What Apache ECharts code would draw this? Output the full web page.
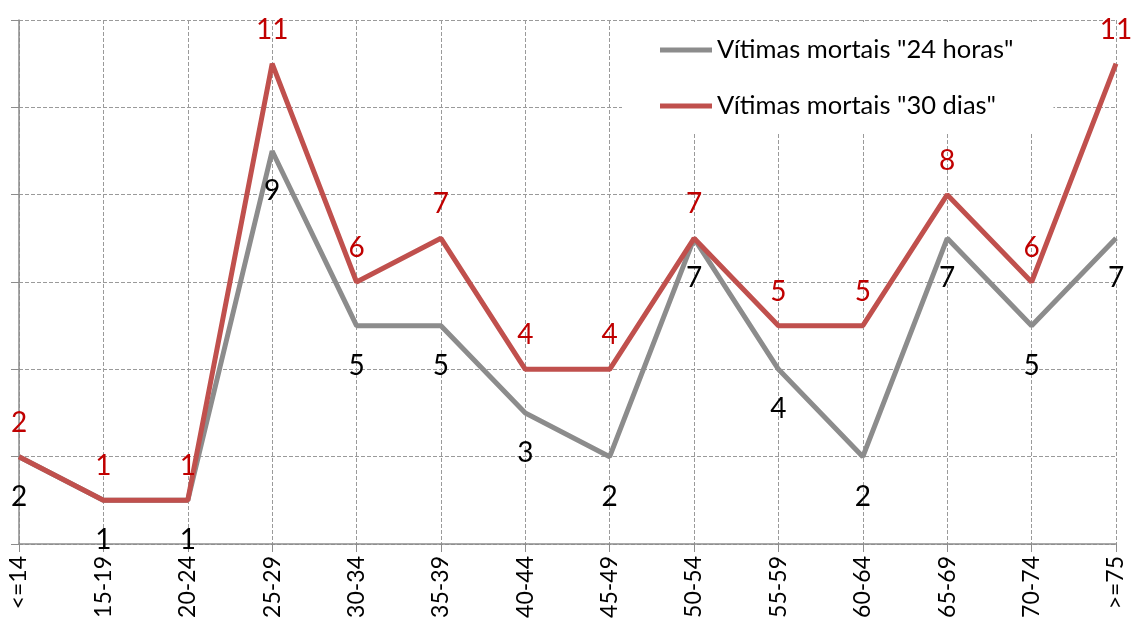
<!DOCTYPE html>
<html>
<head>
<meta charset="utf-8">
<script src="https://cdn.jsdelivr.net/npm/echarts@6/dist/echarts.min.js"></script>
<style>
  html, body { margin: 0; padding: 0; background: #fff; }
  #chart { width: 1137px; height: 622px; }
</style>
</head>
<body>
<div id="chart"></div>
<script>
// faixas etárias
var categories = ['<=14', '15-19', '20-24', '25-29', '30-34', '35-39', '40-44', '45-49', '50-54', '55-59', '60-64', '65-69', '70-74', '>=75'];
var mortos24h = [2, 1, 1, 9, 5, 5, 3, 2, 7, 4, 2, 7, 5, 7];
var mortos30d = [2, 1, 1, 11, 6, 7, 4, 4, 7, 5, 5, 8, 6, 11];
var seriesNames = ['Vítimas mortais "24 horas"', 'Vítimas mortais "30 dias"'];

var font = 'Lato, "Open Sans", sans-serif';
var gridColor = '#8c8c8c';

var chart = echarts.init(document.getElementById('chart'));
chart.setOption({
    animation: false,
    textStyle: { fontFamily: font },
    grid: { left: 19, right: 21, top: 20, bottom: 78, containLabel: false },
    legend: {
        orient: 'vertical',
        left: 622,
        top: 22,
        padding: [15, 40, 15, 38],
        backgroundColor: '#fff',
        itemWidth: 52,
        itemHeight: 5,
        itemGap: 30,
        icon: 'rect',
        textStyle: { fontSize: 25.5, color: '#000', fontFamily: font },
        data: seriesNames
    },
    xAxis: {
        type: 'category',
        boundaryGap: false,
        data: categories,
        axisLine: { lineStyle: { color: gridColor, width: 1.5 } },
        axisTick: { show: true, length: 8, lineStyle: { color: gridColor } },
        axisLabel: { rotate: 90, fontSize: 23, color: '#000', margin: 12, fontFamily: font },
        splitLine: { show: true, lineStyle: { color: '#9a9a9a', type: 'dashed', width: 1 } }
    },
    yAxis: {
        type: 'value',
        min: 0,
        max: 12,
        interval: 2,
        axisLine: { show: true, lineStyle: { color: gridColor, width: 1.5 } },
        axisTick: { show: true, length: 8, lineStyle: { color: gridColor } },
        axisLabel: { show: false },
        splitLine: { show: true, lineStyle: { color: '#9a9a9a', type: 'dashed', width: 1 } }
    },
    series: [
        {
            name: seriesNames[0],
            type: 'line',
            data: mortos24h,
            symbol: 'circle',
            symbolSize: 0,
            lineStyle: { color: '#8c8c8c', width: 5 },
            itemStyle: { color: '#8c8c8c' },
            label: { show: true, position: 'bottom', distance: 26, fontSize: 28, color: '#000', fontFamily: font }
        },
        {
            name: seriesNames[1],
            type: 'line',
            data: mortos30d,
            symbol: 'circle',
            symbolSize: 0,
            lineStyle: { color: '#c0504d', width: 5 },
            itemStyle: { color: '#c0504d' },
            label: { show: true, position: 'top', distance: 20, fontSize: 28, color: '#c00000', fontFamily: font }
        }
    ]
});
</script>
</body>
</html>
